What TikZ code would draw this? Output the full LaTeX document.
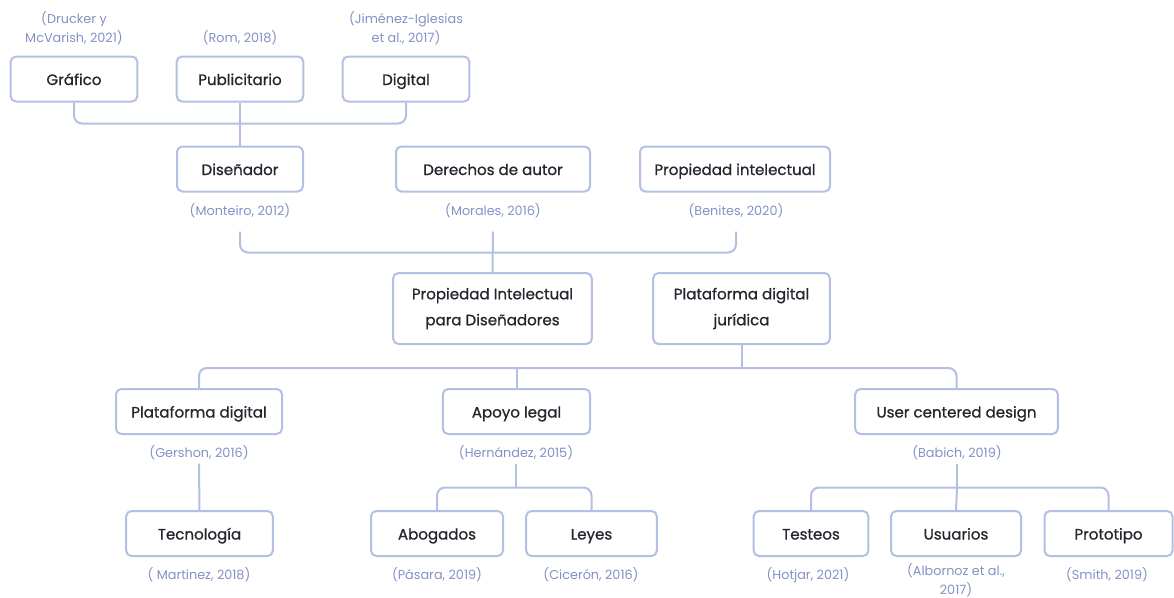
\documentclass[tikz,border=0pt]{standalone}
\usepackage{fontspec}
\setmainfont{Poppins}
\newfontfamily\cardfont{Poppins}[FakeBold=0.8]
\usepackage{tikz}
\usetikzlibrary{positioning}
\definecolor{boxline}{HTML}{B3BFE3}
\definecolor{citeblue}{HTML}{8391C4}
\definecolor{ink}{HTML}{25252E}

\begin{document}
\begin{tikzpicture}[
  x=0.75pt, y=-0.75pt,
  card/.style={draw=boxline, line width=1.5pt, rounded corners=4pt, fill=white, text=ink, align=center,
    font=\cardfont\fontsize{11.3}{19.5}\selectfont, inner sep=2pt},
  concept/.style={card, minimum height=33.75pt, text height=10pt, text depth=1pt},
  twoline/.style={card, minimum height=53.25pt},
  cite/.style={text=citeblue, align=center, font=\fontsize{9.6}{14}\selectfont, inner sep=0pt, outer ysep=2.5pt},
  link/.style={draw=boxline, line width=1.5pt, rounded corners=6pt}
]
  \useasboundingbox (0,0) rectangle (1174,597);

  % top row
  \node[concept, minimum width=95pt] (grafico) at (74,79) {Gráfico};
  \node[concept, minimum width=95pt] (publicitario) at (240,79) {Publicitario};
  \node[concept, minimum width=95pt] (digital) at (406,79) {Digital};
  \node[cite] (drucker) at (74,28) {(Drucker y\\McVarish, 2021)};
  \node[cite] (rom) at (240,38) {(Rom, 2018)};
  \node[cite] (jimenez) at (406,28) {(Jiménez-Iglesias\\et al., 2017)};

  % second row
  \node[concept, minimum width=94.5pt] (disenador) at (240,169) {Diseñador};
  \node[concept, minimum width=145.5pt] (derechos) at (493,169) {Derechos de autor};
  \node[concept, minimum width=142.5pt] (propiedad) at (735,169) {Propiedad intelectual};
  \node[cite, outer ysep=10pt] (monteiro) at (240,211) {(Monteiro, 2012)};
  \node[cite, outer ysep=10pt] (morales) at (493,211) {(Morales, 2016)};
  \node[cite, outer ysep=10pt] (benites) at (736,211) {(Benites, 2020)};

  % centre
  \node[twoline, minimum width=149pt] (pid) at (492.5,308.5) {Propiedad Intelectual\\para Diseñadores};
  \node[twoline, minimum width=132.5pt] (pdj) at (741.5,308.5) {Plataforma digital\\jurídica};

  % third row
  \node[concept, minimum width=124.5pt] (pd) at (199,411.5) {Plataforma digital};
  \node[concept, minimum width=110.5pt] (apoyo) at (516.5,411.5) {Apoyo legal};
  \node[concept, minimum width=152pt] (ucd) at (956.5,411.5) {User centered design};
  \node[cite] (gershon) at (199,453) {(Gershon, 2016)};
  \node[cite] (hernandez) at (516,453) {(Hernández, 2015)};
  \node[cite] (babich) at (957,453) {(Babich, 2019)};

  % bottom row
  \node[concept, minimum width=110pt] (tecnologia) at (199.5,533.5) {Tecnología};
  \node[concept, minimum width=99pt] (abogados) at (437,533.5) {Abogados};
  \node[concept, minimum width=98pt] (leyes) at (591.5,533.5) {Leyes};
  \node[concept, minimum width=86pt] (testeos) at (811,533.5) {Testeos};
  \node[concept, minimum width=97.5pt] (usuarios) at (956,533.5) {Usuarios};
  \node[concept, minimum width=96pt] (prototipo) at (1108.5,533.5) {Prototipo};
  \node[cite] (martinez) at (199,575) {( Martinez, 2018)};
  \node[cite] (pasara) at (437,575) {(Pásara, 2019)};
  \node[cite] (ciceron) at (591,575) {(Cicerón, 2016)};
  \node[cite] (hotjar) at (808,575) {(Hotjar, 2021)};
  \node[cite] (albornoz) at (956,580) {(Albornoz et al.,\\2017)};
  \node[cite] (smith) at (1107,575) {(Smith, 2019)};

  % connectors
  \draw[link] (grafico.south) -- ++(0,21) -| (digital.south);
  \draw[link] (publicitario) -- (disenador);
  \draw[link] (monteiro.south) -- ++(0,21) -| (benites.south);
  \draw[link] (morales.south) -- (pid.north);
  \coordinate (bar3) at (741.5,368);
  \draw[link] (pd.north) |- (bar3) -| (ucd.north);
  \draw[link] (pdj.south) -- (bar3);
  \draw[link] (apoyo.north) -- (apoyo.north |- bar3);
  \draw[link] (gershon.south) -- (tecnologia.north);
  \draw[link] (hernandez.south) -- ++(0,24) coordinate (bar4a);
  \draw[link] (abogados.north) |- (bar4a) -| (leyes.north);
  \draw[link] (babich.south) -- ++(0,24) coordinate (bar4b);
  \draw[link] (testeos.north) |- (bar4b) -| (prototipo.north);
  \draw[link] (bar4b) -- (usuarios.north);
\end{tikzpicture}
\end{document}
